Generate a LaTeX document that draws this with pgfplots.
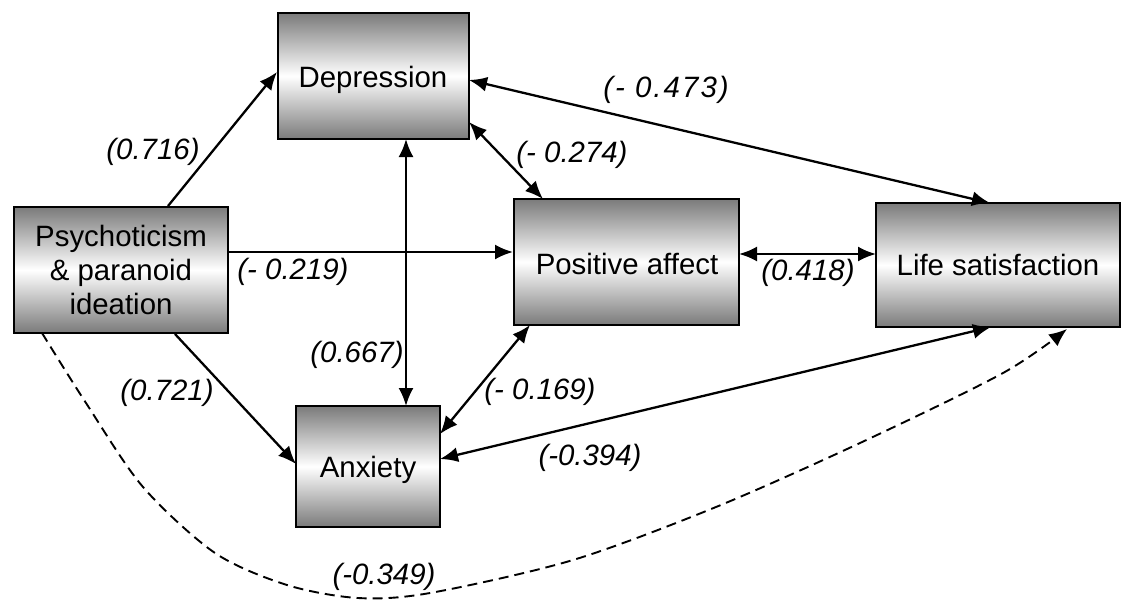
\documentclass[border=0pt]{standalone}
\usepackage{pgfplots}
\pgfplotsset{compat=1.18}
\usepackage{fontspec}
\setmainfont{Liberation Sans}
\usetikzlibrary{arrows.meta}
\tikzset{
  box/.style={draw=black, line width=1.1pt, top color=black!52, bottom color=black!52, middle color=white},
  lab/.style={font=\fontsize{14.7}{17}\selectfont\itshape, inner sep=0pt},
  btxt/.style={font=\fontsize{14.7}{17}\selectfont, align=center, inner sep=0pt},
  ar/.style={line width=1.15pt, -{Latex[length=9pt,width=7.5pt]}},
  dar/.style={line width=1.15pt, {Latex[length=9pt,width=7.5pt]}-{Latex[length=9pt,width=7.5pt]}}
}
\begin{document}
\begin{tikzpicture}
\begin{axis}[
  scale only axis, width=561.5pt, height=300pt,
  xmin=0, xmax=1123, ymin=0, ymax=600, y dir=reverse,
  axis lines=none, ticks=none, clip=false]
\path (axis cs:0,0) rectangle (axis cs:1123,600);
% boxes
\draw[box] (axis cs:14,207) rectangle (axis cs:228,333);
\draw[box] (axis cs:278,13) rectangle (axis cs:469,139);
\draw[box] (axis cs:514,199) rectangle (axis cs:739,325);
\draw[box] (axis cs:876,203) rectangle (axis cs:1120,327);
\draw[box] (axis cs:296,406) rectangle (axis cs:440,527);
\node[btxt] at (axis cs:121,270) {Psychoticism\\\& paranoid\\ideation};
\node[btxt] at (axis cs:373,80) {Depression};
\node[btxt] at (axis cs:627,264) {Positive affect};
\node[btxt] at (axis cs:998,265) {Life satisfaction};
\node[btxt] at (axis cs:368,470) {Anxiety};
% paths
\addplot[ar] coordinates {(168,206) (277,72)};
\addplot[ar] coordinates {(228,252) (513,252)};
\addplot[ar] coordinates {(175,334) (296,464)};
\addplot[dar] coordinates {(406,139) (406,406)};
\addplot[dar] coordinates {(469,122) (543,199)};
\addplot[dar] coordinates {(469,80) (990,203)};
\addplot[dar] coordinates {(739,254) (876,254)};
\addplot[dar] coordinates {(440,434) (530,325)};
\addplot[dar] coordinates {(440,459) (991,327)};
\addplot[line width=0.95pt, dash pattern=on 5pt off 3pt, smooth, -{Latex[length=9pt,width=7.5pt]}] coordinates {
 (42,333) (86,403) (143,487) (215,553) (287,585) (358,598) (430,593) (573,560) (716,507) (860,443) (1003,373) (1067,329)};
% labels
\node[lab] at (axis cs:153,152) {(0.716)};
\node[lab] at (axis cs:666,90) {\addfontfeature{LetterSpace=7}(- 0.473)};
\node[lab] at (axis cs:572,155) {(- 0.274)};
\node[lab] at (axis cs:293,272) {(- 0.219)};
\node[lab] at (axis cs:808,273) {(0.418)};
\node[lab] at (axis cs:357,355) {(0.667)};
\node[lab] at (axis cs:167,393) {(0.721)};
\node[lab] at (axis cs:540,392) {(- 0.169)};
\node[lab] at (axis cs:590,458) {(-0.394)};
\node[lab] at (axis cs:384,577) {(-0.349)};
\end{axis}
\end{tikzpicture}
\end{document}
